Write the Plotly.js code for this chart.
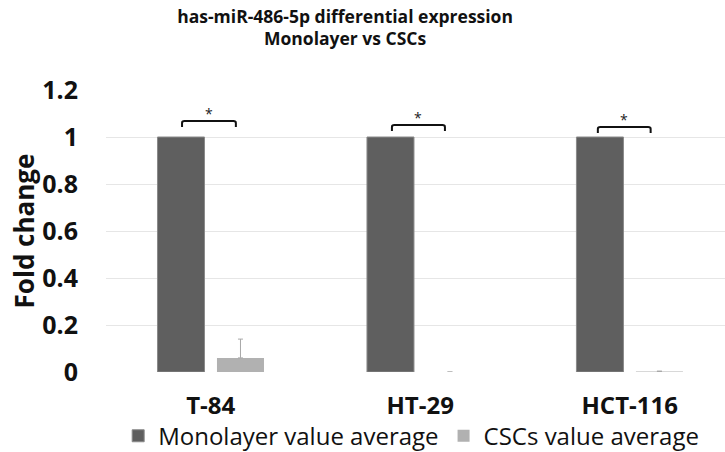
<!DOCTYPE html>
<html>
<head>
<meta charset="utf-8">
<script src="https://cdn.plot.ly/plotly-3.0.1.min.js"></script>
<style>
  html, body { margin: 0; padding: 0; background: #fff; }
  #chart { width: 725px; height: 452px; }
</style>
</head>
<body>
<div id="chart"></div>
<script>
// Cell lines and fold-change values (mean, with upper error)
const cellLines = ['T-84', 'HT-29', 'HCT-116'];
const monolayerAvg = [1, 1, 1];
const cscAvg = [0.06, 0, 0.002];
const cscErrPlus = [0.08, null, 0.002];
const yTicks = [0, 0.2, 0.4, 0.6, 0.8, 1, 1.2];
const yTickText = ['0', '0.2', '0.4', '0.6', '0.8', '1', '1.2'];

// Significance brackets: [x start, x end, top y, foot y]
const brackets = [
  [-0.137, 0.12, 1.068, 1.043],
  [0.865, 1.118, 1.051, 1.026],
  [1.848, 2.10, 1.043, 1.017]
];

const FONT = '"Open Sans", sans-serif';

const traces = [
  {
    type: 'bar',
    name: 'Monolayer value average',
    x: cellLines,
    y: monolayerAvg,
    marker: { color: '#5f5f5f', line: { color: '#8a8a8a', width: 1 } }
  },
  {
    type: 'bar',
    name: 'CSCs value average',
    x: cellLines,
    y: cscAvg,
    marker: { color: '#b1b1b1', line: { color: '#b1b1b1', width: 0 } },
    error_y: {
      type: 'data', symmetric: false,
      array: cscErrPlus, arrayminus: [0, 0, 0],
      color: '#a8a8a8', thickness: 1, width: 2.5
    }
  }
];

const shapes = [];
const annotations = [];
brackets.forEach(b => {
  const [x0, x1, yt, yf] = b;
  const r = 0.008;
  shapes.push({
    type: 'path', xref: 'x', yref: 'y',
    path: `M ${x0} ${yf} L ${x0} ${yt - r} Q ${x0} ${yt} ${x0 + 0.012} ${yt} L ${x1 - 0.012} ${yt} Q ${x1} ${yt} ${x1} ${yt - r} L ${x1} ${yf}`,
    line: { color: '#111', width: 2 }
  });
  annotations.push({
    xref: 'x', yref: 'y', x: (x0 + x1) / 2, y: yt, yanchor: 'bottom',
    text: '*', showarrow: false, yshift: -4,
    font: { family: FONT, size: 14, color: '#222' }
  });
});

const layout = {
  width: 725, height: 452,
  margin: { l: 106, r: 0, t: 90, b: 80 },
  paper_bgcolor: '#fff', plot_bgcolor: '#fff',
  font: { family: FONT, color: '#111' },
  title: {
    text: '<b>has-miR-486-5p differential expression<br>Monolayer vs CSCs</b>',
    font: { family: FONT, size: 17.5, color: '#111' },
    x: 0.476, xanchor: 'center', y: 0.95, yanchor: 'top'
  },
  barmode: 'group',
  bargap: 0.432,
  bargroupgap: 0.21,
  xaxis: {
    range: [-0.5, 2.455],
    showgrid: false, zeroline: false, showline: false, ticks: '',
    ticklabelstandoff: 17,
    tickfont: { family: FONT, size: 24, color: '#111', weight: 'bold' }
  },
  yaxis: {
    range: [0, 1.2],
    tickvals: yTicks, ticktext: yTickText,
    showgrid: true, gridcolor: '#e6e6e6', gridwidth: 1,
    zeroline: false, showline: false, ticks: '',
    ticklabelstandoff: 27,
    tickfont: { family: FONT, size: 25, color: '#111', weight: 'bold' },
    title: {
      text: '<b>Fold change</b>',
      font: { family: FONT, size: 26, color: '#111' },
      standoff: 0
    }
  },
  legend: {
    orientation: 'h',
    xref: 'container', x: 0.163, xanchor: 'left',
    yref: 'container', y: 0.035, yanchor: 'middle',
    bgcolor: 'rgba(0,0,0,0)',
    font: { family: FONT, size: 24, color: '#111' },
    itemwidth: 30, traceorder: 'normal'
  },
  shapes: shapes,
  annotations: annotations
};

Plotly.newPlot('chart', traces, layout, { displayModeBar: false, staticPlot: true });
</script>
</body>
</html>
